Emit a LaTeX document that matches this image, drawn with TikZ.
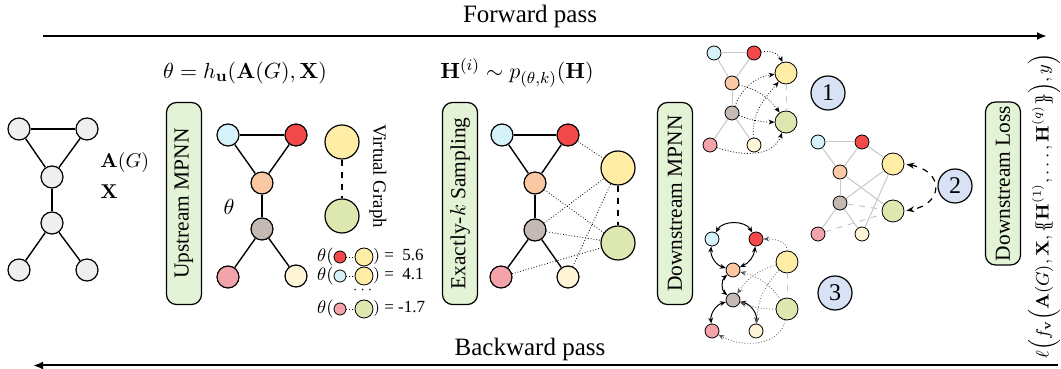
\documentclass[tikz,border=0pt]{standalone}
\usepackage[no-math]{fontspec}
\setmainfont{Liberation Serif}
\usepackage{amsmath}
\usetikzlibrary{arrows.meta}
\definecolor{nodegray}{HTML}{EFEFEF}
\definecolor{cblue}{HTML}{D5F1FA}
\definecolor{cred}{HTML}{F24A4A}
\definecolor{corange}{HTML}{FBC8A4}
\definecolor{cbrown}{HTML}{C5B9B4}
\definecolor{cpink}{HTML}{F5A3AA}
\definecolor{ccream}{HTML}{FFF6D8}
\definecolor{cyellow}{HTML}{FFEDA6}
\definecolor{cgreen}{HTML}{DDE8B1}
\definecolor{boxgreen}{HTML}{E3F3D6}
\definecolor{numblue}{HTML}{D7E2F4}
\begin{document}
\begin{tikzpicture}[x=0.5pt,y=0.5pt,
    vtx/.style={circle,draw,line width=0.6pt,minimum size=11pt,inner sep=0pt},
    vbig/.style={vtx,minimum size=17pt},
    vsm/.style={circle,draw,line width=0.4pt,minimum size=7pt,inner sep=0pt},
    vsmbig/.style={vsm,minimum size=11pt},
    stage/.style={draw,line width=0.6pt,rounded corners=5pt,fill=boxgreen,rotate=90,
      minimum width=101pt,minimum height=17.5pt,inner sep=0pt,font=\fontsize{10.7}{12}\selectfont},
    edge/.style={line width=0.7pt},
    faint/.style={black!22,line width=0.5pt},
    msg/.style={densely dotted,line width=0.4pt,-{Stealth[length=3pt,width=2.4pt]}},
    vmsg/.style={densely dotted,black!65,line width=0.4pt,-{Stealth[length=3pt,width=2.4pt]}},
    nmsg/.style={line width=0.5pt,{Stealth[length=3pt,width=2.4pt]}-{Stealth[length=3pt,width=2.4pt]}},
    numcirc/.style={circle,draw,line width=0.6pt,fill=numblue,minimum size=17pt,inner sep=0pt,
      font=\fontsize{12}{14}\selectfont},
    pass/.style={line width=1pt,-{Latex[length=5pt,width=4pt]}}]
    \useasboundingbox (0,0) rectangle (1061,369);

    \coordinate (fs) at (43,333);
    \coordinate (fe) at (1047,333);
    \coordinate (bs) at (1058,3.5);
    \coordinate (be) at (33,3.5);
    \draw[pass] (fs) -- (fe);
    \draw[pass] (bs) -- (be);
    \node[font=\fontsize{12.5}{14}\selectfont] (fwd) at (530,353) {Forward pass};
    \node[font=\fontsize{12.5}{14}\selectfont] (bwd) at (530,20) {Backward pass};

    \node[vtx,fill=nodegray] (g1) at (19,240) {};
    \node[vtx,fill=nodegray] (g2) at (87,240) {};
    \node[vtx,fill=nodegray] (g3) at (52,192) {};
    \node[vtx,fill=nodegray] (g4) at (52,146) {};
    \node[vtx,fill=nodegray] (g5) at (19,99) {};
    \node[vtx,fill=nodegray] (g6) at (87,99) {};
    \draw[edge] (g1) -- (g2);
    \draw[edge] (g1) -- (g3);
    \draw[edge] (g2) -- (g3);
    \draw[edge] (g3) -- (g4);
    \draw[edge] (g4) -- (g5);
    \draw[edge] (g4) -- (g6);
    \node[anchor=west,inner sep=0pt] (lab) at (100,206) {$\mathbf{A}(G)$};
    \node[anchor=west,inner sep=0pt] (labx) at (100,177) {$\mathbf{X}$};

    \node[stage] (up) at (184,165.5) {Upstream MPNN};
    \node[font=\fontsize{11}{13}\selectfont] (hu) at (245,296) {$\theta = h_{\mathbf{u}}(\mathbf{A}(G), \mathbf{X})$};
    \node[font=\fontsize{11}{13}\selectfont] (th) at (229,162) {$\theta$};

    \node[vtx,fill=cblue] (u1) at (228,234) {};
    \node[vtx,fill=cred] (u2) at (296,234) {};
    \node[vtx,fill=corange] (u3) at (262,186) {};
    \node[vtx,fill=cbrown] (u4) at (262,140) {};
    \node[vtx,fill=cpink] (u5) at (228,92) {};
    \node[vtx,fill=ccream] (u6) at (296,93) {};
    \node[vbig,fill=cyellow] (uy) at (342,227) {};
    \node[vbig,fill=cgreen] (ug) at (342,153) {};
    \draw[edge] (u1) -- (u2);
    \draw[edge] (u1) -- (u3);
    \draw[edge] (u2) -- (u3);
    \draw[edge] (u3) -- (u4);
    \draw[edge] (u4) -- (u5);
    \draw[edge] (u4) -- (u6);
    \draw[edge,dashed] (uy) -- (ug);
    \node[rotate=-90,font=\fontsize{9.4}{11}\selectfont] (vg) at (378,193) {Virtual Graph};

    \node[anchor=east,inner sep=0pt,font=\fontsize{9}{10}\selectfont] (t1) at (334,112) {$\theta($};
    \node[vsm,fill=cred,minimum size=6pt] (t1a) at (340,112) {};
    \node[vsm,fill=cyellow,minimum size=9pt] (t1b) at (364,112) {};
    \node[anchor=west,inner sep=0pt,font=\fontsize{8.5}{10}\selectfont] (t1c) at (373,112) {$)$ = \ 5.6};
    \draw[densely dotted] (t1a) -- (t1b);
    \node[anchor=east,inner sep=0pt,font=\fontsize{9}{10}\selectfont] (t2) at (334,93) {$\theta($};
    \node[vsm,fill=cblue,minimum size=6pt] (t2a) at (340,93) {};
    \node[vsm,fill=cyellow,minimum size=9pt] (t2b) at (364,93) {};
    \node[anchor=west,inner sep=0pt,font=\fontsize{8.5}{10}\selectfont] (t2c) at (373,93) {$)$ = \ 4.1};
    \draw[densely dotted] (t2a) -- (t2b);
    \node[font=\fontsize{7}{8}\selectfont] (tdots) at (364,79) {$\cdots$};
    \node[anchor=east,inner sep=0pt,font=\fontsize{9}{10}\selectfont] (t3) at (334,60) {$\theta($};
    \node[vsm,fill=cpink,minimum size=6pt] (t3a) at (340,60) {};
    \node[vsm,fill=cgreen,minimum size=9pt] (t3b) at (364,60) {};
    \node[anchor=west,inner sep=0pt,font=\fontsize{8.5}{10}\selectfont] (t3c) at (373,60) {$)$ = -1.7};
    \draw[densely dotted] (t3a) -- (t3b);

    \node[stage] (smp) at (460,165.5) {Exactly-$k$ Sampling};
    \node[font=\fontsize{11}{13}\selectfont] (ph) at (517,296) {$\mathbf{H}^{(i)} \sim p_{(\theta,k)}(\mathbf{H})$};

    \node[vtx,fill=cblue] (s1) at (502,234) {};
    \node[vtx,fill=cred] (s2) at (568,234) {};
    \node[vtx,fill=corange] (s3) at (535,186) {};
    \node[vtx,fill=cbrown] (s4) at (535,139) {};
    \node[vtx,fill=cpink] (s5) at (501,92) {};
    \node[vtx,fill=ccream] (s6) at (568,92) {};
    \node[vbig,fill=cyellow] (sy) at (618,201) {};
    \node[vbig,fill=cgreen] (sg) at (618,126) {};
    \draw[edge] (s1) -- (s2);
    \draw[edge] (s1) -- (s3);
    \draw[edge] (s2) -- (s3);
    \draw[edge] (s3) -- (s4);
    \draw[edge] (s4) -- (s5);
    \draw[edge] (s4) -- (s6);
    \draw[densely dotted] (s2) -- (sy);
    \draw[densely dotted] (s3) -- (sg);
    \draw[densely dotted] (s4) -- (sy);
    \draw[densely dotted] (s4) -- (sg);
    \draw[densely dotted] (s5) -- (sg);
    \draw[densely dotted] (s6) -- (sy);
    \draw[edge,dashed] (sy) -- (sg);

    \node[stage] (down) at (675,165.5) {Downstream MPNN};

    \node[vsm,fill=cblue] (a1) at (714,316) {};
    \node[vsm,fill=cred] (a2) at (754,316) {};
    \node[vsm,fill=corange] (a3) at (732,286) {};
    \node[vsm,fill=cbrown] (a4) at (732,256) {};
    \node[vsm,fill=cpink] (a5) at (710,224) {};
    \node[vsm,fill=ccream] (a6) at (754,224) {};
    \node[vsmbig,fill=cyellow] (ay) at (786,296) {};
    \node[vsmbig,fill=cgreen] (ag) at (786,247) {};
    \draw[faint] (a1) -- (a2);
    \draw[faint] (a1) -- (a3);
    \draw[faint] (a2) -- (a3);
    \draw[faint] (a3) -- (a4);
    \draw[faint] (a4) -- (a5);
    \draw[faint] (a4) -- (a6);
    \draw[faint,dashed] (ay) -- (ag);
    \draw[msg] (a2) to[bend left=40] (ay);
    \draw[msg] (a3) to[bend left=20] (ag);
    \draw[msg] (a4) to[bend left=30] (ay);
    \draw[msg] (a4) to[bend right=10] (ag);
    \draw[msg] (a6) to[out=95,in=230] (ay);
    \draw[msg] (a5) to[out=-20,in=-110] (ag);
    \node[numcirc] (n1) at (828,276) {1};

    \node[vsm,fill=cblue] (b1) at (818,227) {};
    \node[vsm,fill=cred] (b2) at (862,227) {};
    \node[vsm,fill=corange] (b3) at (840,197) {};
    \node[vsm,fill=cbrown] (b4) at (840,166) {};
    \node[vsm,fill=cpink] (b5) at (818,135) {};
    \node[vsm,fill=ccream] (b6) at (862,135) {};
    \node[vsmbig,fill=cyellow] (by) at (893,205) {};
    \node[vsmbig,fill=cgreen] (bg) at (893,158) {};
    \draw[faint] (b1) -- (b2);
    \draw[faint] (b1) -- (b3);
    \draw[faint] (b2) -- (b3);
    \draw[faint] (b3) -- (b4);
    \draw[faint] (b4) -- (b5);
    \draw[faint] (b4) -- (b6);
    \draw[faint] (b2) -- (by);
    \draw[faint] (b3) -- (bg);
    \draw[faint] (b4) -- (by);
    \draw[faint,dashed] (b4) -- (bg);
    \draw[faint,dashed] (b5) -- (bg);
    \draw[faint] (b6) -- (by);
    \draw[dashed,line width=0.6pt,{Stealth[length=4pt,width=3pt]}-{Stealth[length=4pt,width=3pt]},shorten <=1pt,shorten >=1pt]
      (by.east) to[out=-10,in=10,looseness=2.2] (bg.east);
    \node[numcirc] (n2) at (955,183) {2};

    \node[vsm,fill=cblue] (c1) at (712,130) {};
    \node[vsm,fill=cred] (c2) at (756,130) {};
    \node[vsm,fill=corange] (c3) at (733,99) {};
    \node[vsm,fill=cbrown] (c4) at (733,69) {};
    \node[vsm,fill=cpink] (c5) at (712,38) {};
    \node[vsm,fill=ccream] (c6) at (756,38) {};
    \node[vsmbig,fill=cyellow] (cy) at (787,107) {};
    \node[vsmbig,fill=cgreen] (cg) at (787,60) {};
    \draw[faint,dashed] (cy) -- (cg);
    \draw[nmsg] (c1) to[bend left=60] (c2);
    \draw[nmsg] (c1) to[bend right=40] (c3);
    \draw[nmsg] (c2) to[bend left=30] (c3);
    \draw[nmsg] (c3) to[bend right=50] (c4);
    \draw[nmsg] (c4) to[bend right=40] (c5);
    \draw[nmsg] (c4) to[bend left=40] (c6);
    \draw[vmsg] (cy) to[out=90,in=0] (c2);
    \draw[vmsg] (cy) to[bend right=20] (c4);
    \draw[vmsg] (cy) to[bend right=20] (c6);
    \draw[vmsg] (cg) to[bend right=20] (c3);
    \draw[vmsg] (cg) to[bend left=10] (c4);
    \draw[vmsg] (cg) to[out=-100,in=-30] (c5);
    \node[numcirc] (n3) at (835,76) {3};

    \node[stage,minimum width=81.5pt] (loss) at (1003,185.5) {Downstream Loss};
    \node[rotate=90,font=\fontsize{8.6}{10}\selectfont] (lf) at (1044,163)
      {$\ell\Big(f_{\mathbf{v}}\Big(\mathbf{A}(G),\mathbf{X},\{\!\!\{\mathbf{H}^{(1)},\ldots,\mathbf{H}^{(q)}\}\!\!\}\Big),y\Big)$};
\end{tikzpicture}
\end{document}
